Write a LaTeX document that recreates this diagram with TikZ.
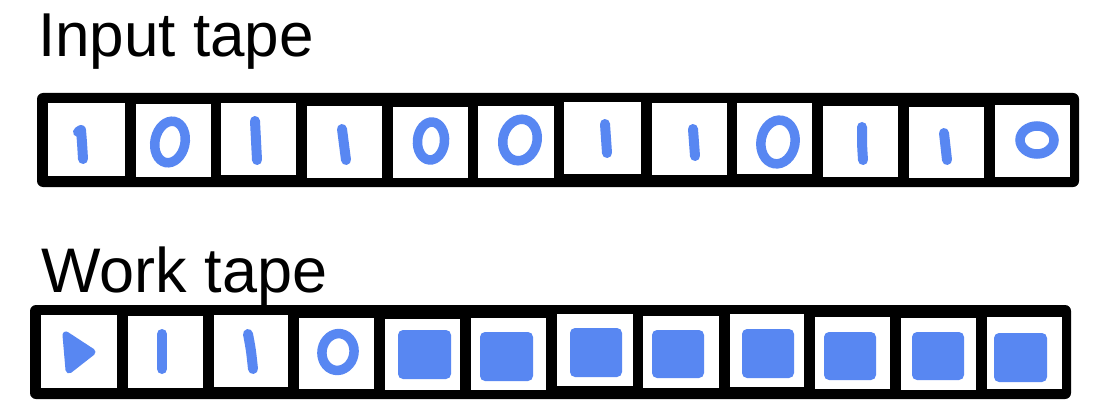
\documentclass[tikz,border=0pt]{standalone}
\usepackage{fontspec}
\setmainfont{Liberation Sans}
\definecolor{ink}{RGB}{88,135,242}
\begin{document}
\begin{tikzpicture}[x=1pt,y=-1pt,
  tapeframe/.style={fill=black, rounded corners=6pt},
  cellbox/.style={fill=white},
  onestroke/.style={draw=ink, line width=10pt, line cap=round, line join=round},
  zerostroke/.style={draw=ink, line width=9.5pt},
  blockfill/.style={fill=ink, rounded corners=5pt},
  tapelabel/.style={anchor=base west, inner sep=0pt, text=black}]
\useasboundingbox (0,0) rectangle (1102,409);
% labels
\node[tapelabel, font=\fontsize{62}{62}\selectfont] (inlabel) at (38,57) {Input tape};
% input tape
\fill[tapeframe] (37,93) rectangle (1079,187);
\foreach \a/\b/\c/\d in {48/103/125/176,136/104/211/177,221/103/296/175,307/106/382/178,
  393/107/468/178,478/106/554/178,564/102/641/174,652/103/727/175,
  737/103/812/174,823/106/898/177,909/107/984/178,995/105/1070/177}
  \fill[cellbox] (\a,\b) rectangle (\c,\d);
% input symbols: 1 0 1 1 0 0 1 1 0 1 1 0
\draw[onestroke] (78,132) -- (81,130) .. controls (82,142) .. (83,159);
\draw[zerostroke, rotate around={-12:(170,142)}] (170,142) ellipse [x radius=15, y radius=21];
\draw[onestroke] (255,121) .. controls (256,140) .. (257,160);
\draw[onestroke] (342,129) .. controls (344,145) .. (346,160);
\draw[zerostroke, rotate around={-5:(431,141)}] (431,141) ellipse [x radius=13.5, y radius=19];
\draw[zerostroke, rotate around={-15:(520,140)}] (520,140) ellipse [x radius=17, y radius=21];
\draw[onestroke] (605,124) .. controls (606,139) .. (607,153);
\draw[onestroke] (693,129) .. controls (694,143) .. (695,156);
\draw[zerostroke, rotate around={-10:(778,142)}] (778,142) ellipse [x radius=17, y radius=22];
\draw[onestroke] (862,127) .. controls (862,145) .. (863,160);
\draw[onestroke] (944,133) .. controls (946,147) .. (947,160);
\draw[zerostroke] (1037,140) ellipse [x radius=17, y radius=14];
% work tape
\fill[tapeframe] (30,305) rectangle (1071,399);
\node[tapelabel, font=\fontsize{63}{63}\selectfont] (worklabel) at (41,292) {Work tape};
\foreach \a/\b/\c/\d in {41/315/117/388,128/316/203/388,214/315/288/387,299/318/374/389,
  385/319/460/390,471/318/546/390,557/314/633/386,643/316/719/388,
  730/314/804/387,815/317/890/389,901/318/976/390,987/317/1062/389}
  \fill[cellbox] (\a,\b) rectangle (\c,\d);
% work symbols: start marker, 1 1 0, blanks
\filldraw[fill=ink, draw=ink, line width=7pt, line join=round] (66,335) -- (92,352) -- (69,370) -- cycle;
\draw[onestroke] (162,334) -- (162,369);
\draw[onestroke] (248,334) .. controls (251,350) .. (253,369);
\draw[zerostroke, rotate around={-10:(338,352)}] (338,352) ellipse [x radius=16, y radius=18.5];
\foreach \a/\b/\c/\d in {398/330/451/379,480/332/533/381,570/328/622/377,652/330/704/378,
  742/329/794/378,824/332/876/380,912/332/964/380,994/333/1047/382}
  \fill[blockfill] (\a,\b) rectangle (\c,\d);
\end{tikzpicture}
\end{document}
